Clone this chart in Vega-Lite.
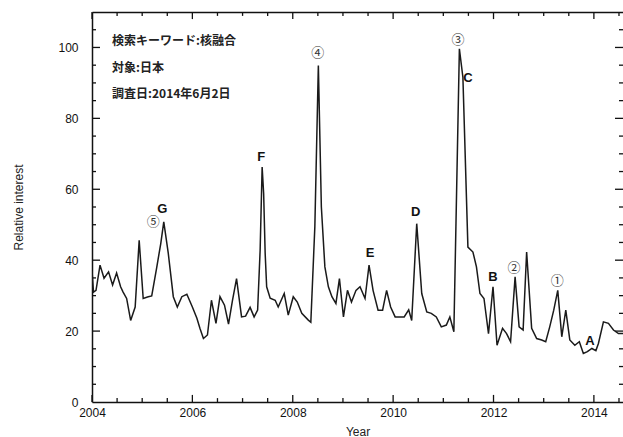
{
  "$schema": "https://vega.github.io/schema/vega-lite/v6.json",
  "autosize": "none",
  "width": 531,
  "height": 390,
  "padding": {"left": 92, "top": 12, "right": 0, "bottom": 35},
  "background": "white",
  "config": {
    "view": {"stroke": null},
    "axis": {
      "domainColor": "#111", "domainWidth": 1.5,
      "labelFont": "Liberation Sans", "labelFontSize": 12, "labelColor": "#111",
      "titleFont": "Liberation Sans", "titleFontWeight": "normal", "titleFontSize": 12, "titleColor": "#222",
      "grid": false
    }
  },
  "datasets": {
    "series": [
      {"t": 2004.00, "v": 37}, {"t": 2004.03, "v": 31}, {"t": 2004.08, "v": 31.5}, {"t": 2004.16, "v": 38.6},
      {"t": 2004.24, "v": 34.9}, {"t": 2004.33, "v": 36.7}, {"t": 2004.41, "v": 33}, {"t": 2004.49, "v": 36.4},
      {"t": 2004.57, "v": 32.5}, {"t": 2004.62, "v": 31}, {"t": 2004.69, "v": 29.2}, {"t": 2004.77, "v": 23},
      {"t": 2004.86, "v": 26.8}, {"t": 2004.94, "v": 45.6}, {"t": 2005.02, "v": 29.2}, {"t": 2005.12, "v": 29.7},
      {"t": 2005.19, "v": 29.9}, {"t": 2005.29, "v": 38}, {"t": 2005.37, "v": 44.7}, {"t": 2005.43, "v": 50.8},
      {"t": 2005.52, "v": 41.9}, {"t": 2005.62, "v": 29.7}, {"t": 2005.70, "v": 26.8}, {"t": 2005.79, "v": 29.7},
      {"t": 2005.89, "v": 30.4}, {"t": 2006.00, "v": 26.8}, {"t": 2006.09, "v": 23.6}, {"t": 2006.15, "v": 20.8},
      {"t": 2006.22, "v": 17.9}, {"t": 2006.30, "v": 18.9}, {"t": 2006.38, "v": 28.7}, {"t": 2006.47, "v": 22.2},
      {"t": 2006.55, "v": 29.7}, {"t": 2006.64, "v": 27.3}, {"t": 2006.72, "v": 22}, {"t": 2006.80, "v": 28.7},
      {"t": 2006.88, "v": 34.8}, {"t": 2006.98, "v": 24}, {"t": 2007.06, "v": 24.2}, {"t": 2007.15, "v": 26.7},
      {"t": 2007.23, "v": 24}, {"t": 2007.30, "v": 25.9}, {"t": 2007.35, "v": 42.8}, {"t": 2007.39, "v": 66.3},
      {"t": 2007.42, "v": 58.8}, {"t": 2007.45, "v": 42}, {"t": 2007.48, "v": 32.5}, {"t": 2007.55, "v": 29.3},
      {"t": 2007.65, "v": 28.7}, {"t": 2007.71, "v": 26.8}, {"t": 2007.83, "v": 30.6}, {"t": 2007.91, "v": 24.5},
      {"t": 2008.01, "v": 29.7}, {"t": 2008.09, "v": 28.2}, {"t": 2008.18, "v": 25}, {"t": 2008.31, "v": 23.1},
      {"t": 2008.36, "v": 22.5}, {"t": 2008.44, "v": 49.4}, {"t": 2008.51, "v": 94.9}, {"t": 2008.57, "v": 55},
      {"t": 2008.64, "v": 38.1}, {"t": 2008.71, "v": 32.5}, {"t": 2008.78, "v": 29.7}, {"t": 2008.86, "v": 27.8},
      {"t": 2008.93, "v": 34.8}, {"t": 2009.01, "v": 24}, {"t": 2009.09, "v": 31.5}, {"t": 2009.17, "v": 28.2},
      {"t": 2009.26, "v": 31.5}, {"t": 2009.34, "v": 32.5}, {"t": 2009.44, "v": 29.2}, {"t": 2009.52, "v": 38.6},
      {"t": 2009.60, "v": 31.5}, {"t": 2009.70, "v": 25.9}, {"t": 2009.79, "v": 25.9}, {"t": 2009.87, "v": 31.5},
      {"t": 2009.95, "v": 26.8}, {"t": 2010.04, "v": 24}, {"t": 2010.13, "v": 24}, {"t": 2010.22, "v": 24},
      {"t": 2010.31, "v": 26}, {"t": 2010.37, "v": 23}, {"t": 2010.47, "v": 50.3}, {"t": 2010.57, "v": 30.6},
      {"t": 2010.67, "v": 25.4}, {"t": 2010.76, "v": 25}, {"t": 2010.86, "v": 24}, {"t": 2010.96, "v": 21.2},
      {"t": 2011.06, "v": 21.7}, {"t": 2011.13, "v": 24}, {"t": 2011.21, "v": 19.8}, {"t": 2011.32, "v": 99.6},
      {"t": 2011.39, "v": 91.6}, {"t": 2011.49, "v": 43.7}, {"t": 2011.59, "v": 42.3}, {"t": 2011.66, "v": 38.1},
      {"t": 2011.73, "v": 30.6}, {"t": 2011.81, "v": 29.2}, {"t": 2011.90, "v": 19.3}, {"t": 2011.99, "v": 32.5},
      {"t": 2012.07, "v": 16}, {"t": 2012.18, "v": 20.8}, {"t": 2012.26, "v": 19.3}, {"t": 2012.34, "v": 17},
      {"t": 2012.43, "v": 35.3}, {"t": 2012.51, "v": 21.2}, {"t": 2012.59, "v": 20.3}, {"t": 2012.66, "v": 42.3},
      {"t": 2012.76, "v": 20.8}, {"t": 2012.86, "v": 17.9}, {"t": 2012.96, "v": 17.5}, {"t": 2013.04, "v": 17},
      {"t": 2013.12, "v": 21.2}, {"t": 2013.20, "v": 25.9}, {"t": 2013.28, "v": 31.5}, {"t": 2013.36, "v": 18.4},
      {"t": 2013.44, "v": 25.9}, {"t": 2013.52, "v": 17.5}, {"t": 2013.62, "v": 16}, {"t": 2013.71, "v": 17},
      {"t": 2013.79, "v": 13.7}, {"t": 2013.87, "v": 14.2}, {"t": 2013.96, "v": 15.1}, {"t": 2014.04, "v": 14.5},
      {"t": 2014.09, "v": 16.5}, {"t": 2014.19, "v": 22.6}, {"t": 2014.29, "v": 22.2}, {"t": 2014.39, "v": 20.3},
      {"t": 2014.49, "v": 19.3}, {"t": 2014.58, "v": 19.3}
    ],
    "letters": [
      {"t": 2005.40, "v": 54.4, "label": "G"},
      {"t": 2007.37, "v": 69.0, "label": "F"},
      {"t": 2009.54, "v": 42.0, "label": "E"},
      {"t": 2010.45, "v": 53.5, "label": "D"},
      {"t": 2011.49, "v": 91.5, "label": "C"},
      {"t": 2011.99, "v": 35.2, "label": "B"},
      {"t": 2013.92, "v": 17.2, "label": "A"}
    ],
    "circled": [
      {"t": 2005.22, "v": 50.7, "label": "⑤"},
      {"t": 2008.50, "v": 98.3, "label": "④"},
      {"t": 2011.29, "v": 102.0, "label": "③"},
      {"t": 2012.41, "v": 37.7, "label": "②"},
      {"t": 2013.27, "v": 34.1, "label": "①"}
    ],
    "info": [
      {"t": 2004.40, "v": 101.8, "label": "検索キーワード:核融合"},
      {"t": 2004.40, "v": 94.2, "label": "対象:日本"},
      {"t": 2004.40, "v": 86.8, "label": "調査日:2014年6月2日"}
    ],
    "xmajor": [{"t": 2004}, {"t": 2006}, {"t": 2008}, {"t": 2010}, {"t": 2012}, {"t": 2014}],
    "xminor": [{"t": 2004.5}, {"t": 2005}, {"t": 2005.5}, {"t": 2006.5}, {"t": 2007}, {"t": 2007.5}, {"t": 2008.5}, {"t": 2009}, {"t": 2009.5}, {"t": 2010.5}, {"t": 2011}, {"t": 2011.5}, {"t": 2012.5}, {"t": 2013}, {"t": 2013.5}, {"t": 2014.5}],
    "ymajor": [{"v": 20}, {"v": 40}, {"v": 60}, {"v": 80}, {"v": 100}],
    "yminor": [{"v": 5}, {"v": 10}, {"v": 15}, {"v": 25}, {"v": 30}, {"v": 35}, {"v": 45}, {"v": 50}, {"v": 55}, {"v": 65}, {"v": 70}, {"v": 75}, {"v": 85}, {"v": 90}, {"v": 95}, {"v": 105}]
  },
  "resolve": {"axis": {"x": "independent", "y": "independent"}},
  "layer": [
    {
      "data": {"name": "xmajor"},
      "mark": {"type": "rule", "color": "#111", "strokeWidth": 1.3},
      "encoding": {
        "x": {"field": "t", "type": "quantitative", "axis": null},
        "y": {"datum": 0, "type": "quantitative", "axis": null},
        "y2": {"datum": 2}
      }
    },
    {
      "data": {"name": "xminor"},
      "mark": {"type": "rule", "color": "#111", "strokeWidth": 1.3},
      "encoding": {
        "x": {"field": "t", "type": "quantitative", "axis": null},
        "y": {"datum": 0, "type": "quantitative", "axis": null},
        "y2": {"datum": 1.1}
      }
    },
    {
      "data": {"name": "xmajor"},
      "mark": {"type": "rule", "color": "#111", "strokeWidth": 1.3},
      "encoding": {
        "x": {"field": "t", "type": "quantitative", "axis": null},
        "y": {"datum": 110, "type": "quantitative", "axis": null},
        "y2": {"datum": 108}
      }
    },
    {
      "data": {"name": "xminor"},
      "mark": {"type": "rule", "color": "#111", "strokeWidth": 1.3},
      "encoding": {
        "x": {"field": "t", "type": "quantitative", "axis": null},
        "y": {"datum": 110, "type": "quantitative", "axis": null},
        "y2": {"datum": 108.9}
      }
    },
    {
      "data": {"name": "ymajor"},
      "mark": {"type": "rule", "color": "#111", "strokeWidth": 1.3},
      "encoding": {
        "y": {"field": "v", "type": "quantitative", "axis": null},
        "x": {"datum": 2004, "type": "quantitative", "axis": null},
        "x2": {"datum": 2004.16}
      }
    },
    {
      "data": {"name": "yminor"},
      "mark": {"type": "rule", "color": "#111", "strokeWidth": 1.3},
      "encoding": {
        "y": {"field": "v", "type": "quantitative", "axis": null},
        "x": {"datum": 2004, "type": "quantitative", "axis": null},
        "x2": {"datum": 2004.08}
      }
    },
    {
      "data": {"name": "ymajor"},
      "mark": {"type": "rule", "color": "#111", "strokeWidth": 1.3},
      "encoding": {
        "y": {"field": "v", "type": "quantitative", "axis": null},
        "x": {"datum": 2014.58, "type": "quantitative", "axis": null},
        "x2": {"datum": 2014.42}
      }
    },
    {
      "data": {"name": "yminor"},
      "mark": {"type": "rule", "color": "#111", "strokeWidth": 1.3},
      "encoding": {
        "y": {"field": "v", "type": "quantitative", "axis": null},
        "x": {"datum": 2014.58, "type": "quantitative", "axis": null},
        "x2": {"datum": 2014.5}
      }
    },
    {
      "data": {"name": "series"},
      "mark": {"type": "line", "color": "#1a1a1a", "strokeWidth": 1.5, "clip": true},
      "encoding": {
        "x": {
          "field": "t", "type": "quantitative",
          "scale": {"domain": [2004, 2014.58], "nice": false, "zero": false},
          "axis": {
            "orient": "bottom", "title": "Year", "titlePadding": 8,
            "values": [2004, 2006, 2008, 2010, 2012, 2014], "format": "d",
            "ticks": false, "labelPadding": 5, "labelFlush": false, "labelOverlap": false
          }
        },
        "y": {
          "field": "v", "type": "quantitative",
          "scale": {"domain": [0, 110], "nice": false},
          "axis": {
            "orient": "left", "title": "Relative interest", "titlePadding": 32,
            "values": [0, 20, 40, 60, 80, 100],
            "ticks": false, "labelPadding": 14, "labelOverlap": false
          }
        }
      }
    },
    {
      "data": {"name": "letters"},
      "mark": {"type": "text", "font": "Liberation Sans", "fontSize": 13, "fontWeight": "bold", "color": "#111"},
      "encoding": {
        "x": {"field": "t", "type": "quantitative",
          "axis": {"orient": "top", "title": null, "labels": false, "ticks": false}},
        "y": {"field": "v", "type": "quantitative", "axis": null},
        "text": {"field": "label"}
      }
    },
    {
      "data": {"name": "circled"},
      "mark": {"type": "text", "font": "Noto Sans CJK JP", "fontSize": 13, "color": "#333"},
      "encoding": {
        "x": {"field": "t", "type": "quantitative", "axis": null},
        "y": {"field": "v", "type": "quantitative", "axis": null},
        "text": {"field": "label"}
      }
    },
    {
      "data": {"name": "info"},
      "mark": {"type": "text", "font": "Noto Sans CJK JP", "fontSize": 12, "fontWeight": "bold", "align": "left", "color": "#222"},
      "encoding": {
        "x": {"field": "t", "type": "quantitative", "axis": null},
        "y": {"field": "v", "type": "quantitative", "axis": null},
        "text": {"field": "label"}
      }
    }
  ]
}
